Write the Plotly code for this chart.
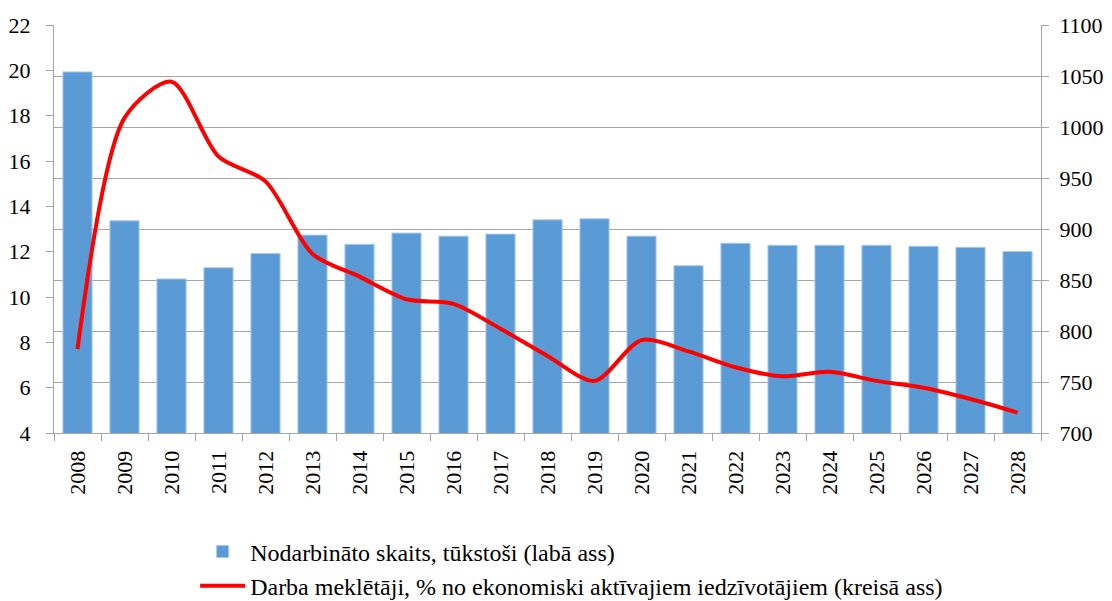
import plotly.graph_objects as go

years = [str(y) for y in range(2008, 2029)]
employed = [1054, 908, 851, 862, 876, 894, 885, 896, 893, 895, 909, 910,
            893, 864, 886, 884, 884, 884, 883, 882, 878]
unemployment = [7.7, 17.9, 19.5, 16.2, 15.1, 11.9, 10.9, 9.9, 9.7, 8.6, 7.4, 6.3,
                8.1, 7.6, 6.9, 6.5, 6.7, 6.3, 6.0, 5.5, 4.9]

bar_name = "Nodarbināto skaits, tūkstoši (labā ass)"
line_name = "Darba meklētāji, % no ekonomiski aktīvajiem iedzīvotājiem (kreisā ass)"

font_family = "Liberation Serif"
axis_grey = "#A6A6A6"
fs = 22

fig = go.Figure()
fig.add_trace(go.Bar(
    x=years, y=employed, name=bar_name, yaxis="y",
    marker=dict(color="#5B9BD5", line=dict(color="#A9C8EA", width=1)),
))
fig.add_trace(go.Scatter(
    x=years, y=unemployment, name=line_name, yaxis="y2", mode="lines",
    line=dict(color="#FF0000", width=4, shape="spline", smoothing=0.8),
))

fig.update_layout(
    width=1104, height=593,
    margin=dict(l=46, r=71, t=17, b=168, autoexpand=False),
    paper_bgcolor="white", plot_bgcolor="white",
    font=dict(family=font_family, size=fs, color="black"),
    bargap=0.38,
    showlegend=True,
    legend=dict(
        orientation="v", x=0.143, xanchor="left", y=-0.43, yanchor="bottom",
        font=dict(family=font_family, size=24, color="black"),
        itemwidth=45, tracegroupgap=0, traceorder="normal",
        bgcolor="rgba(0,0,0,0)",
    ),
    xaxis=dict(
        type="category", tickangle=-90, showgrid=False, automargin=False,
        showline=True, linecolor=axis_grey, linewidth=1,
        ticks="outside", tickson="boundaries", ticklen=7, tickcolor=axis_grey,
        ticklabelstandoff=8,
        tickfont=dict(family=font_family, size=fs),
    ),
    yaxis=dict(
        side="right", range=[700, 1100], dtick=50, tick0=700, automargin=False,
        showgrid=True, gridcolor=axis_grey, gridwidth=1,
        showline=True, linecolor=axis_grey, linewidth=1,
        ticks="outside", ticklen=7, tickcolor=axis_grey,
        ticklabelstandoff=6,
        zeroline=False,
        tickfont=dict(family=font_family, size=fs),
    ),
    yaxis2=dict(
        side="left", overlaying="y", range=[4, 22], dtick=2, tick0=4, automargin=False,
        showgrid=False,
        showline=True, linecolor=axis_grey, linewidth=1,
        ticks="outside", ticklen=7, tickcolor=axis_grey,
        ticklabelstandoff=11,
        zeroline=False,
        tickfont=dict(family=font_family, size=fs),
    ),
)

fig.write_html("out.html")
